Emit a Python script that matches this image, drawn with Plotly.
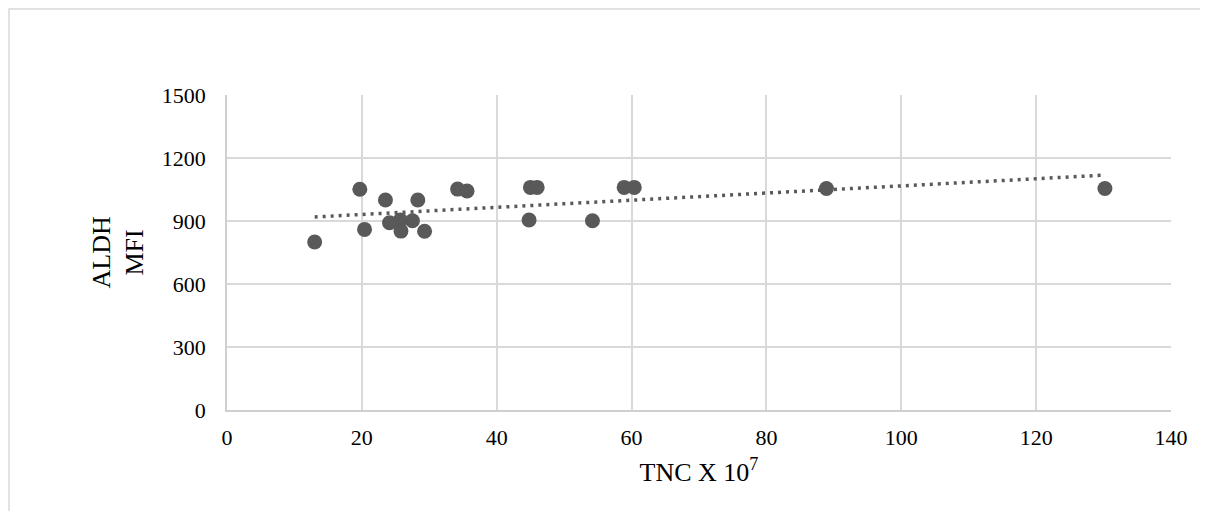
import numpy as np
import plotly.graph_objects as go

tnc = [13.0, 19.7, 20.4, 23.5, 24.1, 25.7, 25.8, 27.5, 28.3, 29.3, 34.2, 35.6,
       44.8, 45.0, 46.0, 54.2, 58.9, 60.4, 88.9, 130.2]
aldh = [800, 1051, 860, 1000, 892, 905, 852, 901, 1000, 851, 1052, 1043,
        905, 1060, 1060, 901, 1060, 1060, 1055, 1055]

x_ticks = [0, 20, 40, 60, 80, 100, 120, 140]
y_ticks = [0, 300, 600, 900, 1200, 1500]

slope, intercept = np.polyfit(tnc, aldh, 1)
tx = [min(tnc), max(tnc)]
ty = [slope * v + intercept for v in tx]

col = "#595959"
font = "Liberation Serif, Times New Roman, serif"

W, H = 1200, 503
L, T, PW, PH = 219, 87, 944, 315

bx0 = (1 - L) / PW
by1 = (PH + T - 1) / PH
border_path = f"M 1.5,{by1} L {bx0},{by1} L {bx0},-0.6"

fig = go.Figure()
fig.add_trace(go.Scatter(x=tnc, y=aldh, mode="markers",
                         marker=dict(size=15, color=col), showlegend=False))
fig.add_trace(go.Scatter(x=tx, y=ty, mode="lines",
                         line=dict(color=col, width=3.5, dash="3px,5px"),
                         showlegend=False))

fig.update_layout(
    width=W, height=H,
    margin=dict(l=L, r=W - L - PW, t=T, b=H - T - PH),
    paper_bgcolor="white", plot_bgcolor="white",
    font=dict(family=font, size=22, color="#000000"),
    xaxis=dict(range=[0, 140], tickvals=x_ticks, showgrid=True, gridcolor="#d9d9d9",
               gridwidth=1.5, showline=True, linecolor="#cfcfcf", linewidth=1.5,
               zeroline=False, ticks="outside", ticklen=7, tickcolor="rgba(0,0,0,0)",
               title=dict(text="TNC X 10<sup>7</sup>", font=dict(size=26), standoff=14)),
    yaxis=dict(range=[0, 1500], tickvals=y_ticks, showgrid=True, gridcolor="#d9d9d9",
               gridwidth=1.5, showline=True, linecolor="#cfcfcf", linewidth=1.5,
               zeroline=False, ticks="outside", ticklen=15, tickcolor="rgba(0,0,0,0)"),
    annotations=[dict(text="ALDH<br>MFI", textangle=-90, xref="paper", yref="paper",
                      x=(110 - L) / PW, y=0.5, xanchor="center", yanchor="middle",
                      showarrow=False, font=dict(size=26, family=font))],
    shapes=[dict(type="path", xref="paper", yref="paper", path=border_path,
                 line=dict(color="#d9d9d9", width=1.5), layer="below")],
)

fig.write_html("out.html")
